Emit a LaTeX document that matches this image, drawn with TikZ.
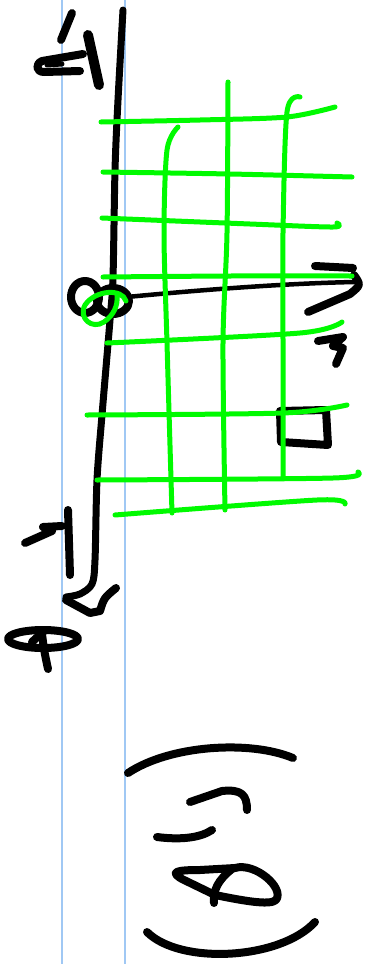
\documentclass[tikz,border=0pt]{standalone}
\usepackage{tikz}
\usetikzlibrary{calc}
\tikzset{ink/.style={draw=black, line width=8pt, line cap=round, line join=round}}
\tikzset{thinink/.style={draw=black, line width=4.5pt, line cap=round, line join=round}}
\tikzset{gridline/.style={draw=cgreen, line width=5pt, line cap=round, line join=round}}
\tikzset{margin/.style={draw=cblue, line width=1.5pt}}
\definecolor{cgreen}{RGB}{0,250,0}
\definecolor{cblue}{RGB}{160,200,244}

\begin{document}
\begin{tikzpicture}[x=1pt, y=-1pt]
        \useasboundingbox (0,0) rectangle (366,964);
        \fill[white] (0,0) rectangle (366,964);

        %%% MARGIN RULES %%%
        \draw[margin] (62,0) -- (62,964);
        \draw[margin] (125,0) -- (125,964);

        %%% VERTICAL AXIS %%%
        \draw[ink, line width=7pt] plot[smooth, tension=0.5] coordinates {(123,10) (118,100) (115,170) (113,277) (110,320) (102,415) (97,480) (95,560) (92,584) (80,594) (66,597)};
        \draw[ink] (66,600) -- (90,613) -- (100,611) .. controls (104,598) .. (116,588);

        %%% HORIZONTAL AXIS %%%
        \draw[thinink] (127,297) .. controls (220,288) and (300,283) .. (355,282);
        \draw[ink] (315,266) -- (353,268);
        \draw[ink] (354,275) .. controls (361,285) .. (350,294) -- (308,312);

        %%% ORIGIN %%%
        \draw[ink] (85,297) ellipse [x radius=14pt, y radius=16pt];
        \draw[ink] (113,301) ellipse [x radius=16pt, y radius=13pt];

        %%% LABELS %%%
        \draw[ink] (72,13) -- (61,40);
        \draw[ink] (83,54) -- (42,61) .. controls (35,64) and (36,72) .. (44,72) -- (80,71);
        \draw[ink, line width=5pt] (47,65) -- (62,64);
        \draw[ink, line width=10pt] (88,35) -- (99,85);
        \draw[ink] (68,510) -- (70,575);
        \draw[ink] (62,526) -- (43,527) -- (52,531) -- (25,543);
        \draw[ink] (43,639) ellipse [x radius=35pt, y radius=9pt];
        \draw[ink] (32,642) -- (44,631);
        \draw[ink] (42,634) .. controls (44,650) .. (48,669);
        \draw[ink] (318,341) -- (343,337) -- (333,346) -- (343,348) -- (336,364);
        \draw[ink] (280,411) -- (326,410) -- (328,445) -- (281,442) -- cycle;

        %%% GREEN GRID %%%
        \draw[gridline] plot[smooth] coordinates {(101,122) (200,120) (287,117) (335,107)};
        \draw[gridline] plot[smooth] coordinates {(103,172) (230,174) (352,177)};
        \draw[gridline] plot[smooth] coordinates {(102,218) (250,224) (333,227) (337,223)};
        \draw[gridline] plot[smooth] coordinates {(103,277) (230,276) (352,276)};
        \draw[gridline] plot[smooth] coordinates {(107,343) (300,333) (342,322)};
        \draw[gridline] plot[smooth] coordinates {(87,415) (283,413) (347,405)};
        \draw[gridline] plot[smooth] coordinates {(97,480) (333,478) (358,472)};
        \draw[gridline] plot[smooth] coordinates {(115,515) (317,500) (345,504)};
        \draw[gridline] plot[smooth] coordinates {(178,127) (167,150) (164,233) (167,343) (172,513)};
        \draw[gridline] plot[smooth] coordinates {(228,82) (227,233) (223,343) (225,510)};
        \draw[gridline] plot[smooth] coordinates {(300,97) (287,112) (283,233) (283,343) (283,478)};
        \draw[gridline] (126,301) .. controls (122,288) and (95,290) .. (85,305) .. controls (78,318) and (92,330) .. (104,322) .. controls (114,315) and (118,305) .. (117,296);

        %%% BOTTOM TERM %%%
        \draw[ink] (128,773) .. controls (170,745) and (250,740) .. (293,758);
        \draw[ink] (147,932) .. controls (180,965) and (280,960) .. (315,922);
        \draw[ink] (190,802) -- (222,791) .. controls (242,789) and (247,795) .. (247,810);
        \draw[ink] (157,837) .. controls (180,840) and (200,838) .. (212,830);
        \draw[ink] (182,879) .. controls (170,872) and (175,870) .. (200,870) -- (235,868) .. controls (255,862) and (285,888) .. (276,900) .. controls (270,906) and (240,900) .. (215,895) -- cycle;
        \draw[ink] (232,869) .. controls (218,880) and (213,890) .. (214,903);
    \end{tikzpicture}
\end{document}
